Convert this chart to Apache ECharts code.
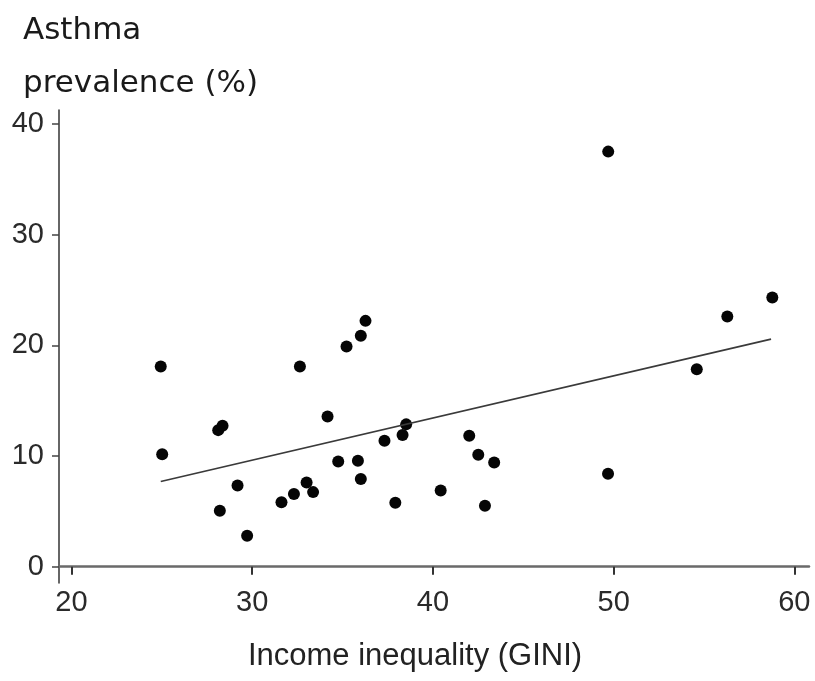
<!DOCTYPE html>
<html>
<head>
<meta charset="utf-8">
<script src="https://cdn.jsdelivr.net/npm/echarts@6/dist/echarts.min.js"></script>
<style>
html,body{margin:0;padding:0;background:#fff;}
#chart{width:815px;height:681px;}
</style>
</head>
<body>
<div id="chart"></div>
<script>
// GINI index (x) and asthma prevalence % (y)
const gini = [24.94, 25.02, 28.12, 28.36, 28.21, 29.19, 29.72, 31.62, 32.31, 32.64, 33.01, 33.37, 34.17, 34.76, 35.22, 36.01, 36.27, 35.85, 36.01, 37.32, 37.92, 38.32, 38.52, 40.43, 42.01, 42.51, 43.39, 42.88, 49.69, 49.70, 58.78, 56.29, 54.60];
const asthma = [18.09, 10.17, 12.34, 12.73, 5.06, 7.34, 2.80, 5.83, 6.56, 18.09, 7.61, 6.74, 13.57, 9.51, 19.89, 20.86, 22.21, 9.57, 7.92, 11.38, 5.78, 11.89, 12.86, 6.89, 11.83, 10.11, 9.42, 5.51, 8.40, 37.50, 24.32, 22.60, 17.85];
// fitted line end points
const fitX = [24.94, 58.71];
const fitY = [7.70, 20.56];
const xTicks = [20, 30, 40, 50, 60];
const yTicks = [0, 10, 20, 30, 40];

const points = gini.map((g, i) => [g, asthma[i]]);
const fitLine = fitX.map((g, i) => [g, fitY[i]]);

const chart = echarts.init(document.getElementById('chart'), null, {renderer: 'canvas'});
chart.setOption({
  animation: false,
  backgroundColor: '#ffffff',
  title: {
    text: 'Asthma\nprevalence (%)',
    left: 18,
    top: -1,
    textStyle: {fontFamily: 'DejaVu Sans', fontSize: 31, fontWeight: 'normal', color: '#1a1a1a', lineHeight: 53}
  },
  grid: {left: 59, right: 6, top: 110, bottom: 98, containLabel: false},
  xAxis: {
    type: 'value',
    min: 19.31, max: 60.81,
    name: 'Income inequality (GINI)',
    nameLocation: 'middle',
    nameGap: 58,
    nameTextStyle: {fontFamily: 'Liberation Sans', fontSize: 31, color: '#222', padding: [0, 38, 0, 0]},
    axisLine: {lineStyle: {color: '#6a6a6a', width: 2.5}},
    axisTick: {show: true, length: 8, lineStyle: {color: '#333', width: 2}, customValues: xTicks},
    axisLabel: {fontFamily: 'Liberation Sans', fontSize: 29, color: '#2a2a2a', margin: 5, customValues: xTicks},
    splitLine: {show: false}
  },
  yAxis: {
    type: 'value',
    min: -1.47, max: 41.26,
    axisLine: {show: true, lineStyle: {color: '#333', width: 1.5}},
    axisTick: {show: true, length: 7, lineStyle: {color: '#444', width: 1.5}, customValues: yTicks},
    axisLabel: {fontFamily: 'Liberation Sans', fontSize: 29, color: '#2a2a2a', margin: 15, customValues: yTicks},
    splitLine: {show: false}
  },
  series: [
    {
      type: 'scatter',
      data: points,
      symbol: 'circle',
      symbolSize: 12,
      itemStyle: {color: '#050505', opacity: 1}
    },
    {
      type: 'line',
      data: fitLine,
      symbol: 'none',
      lineStyle: {color: '#3a3a3a', width: 1.6}
    }
  ]
});
</script>
</body>
</html>
